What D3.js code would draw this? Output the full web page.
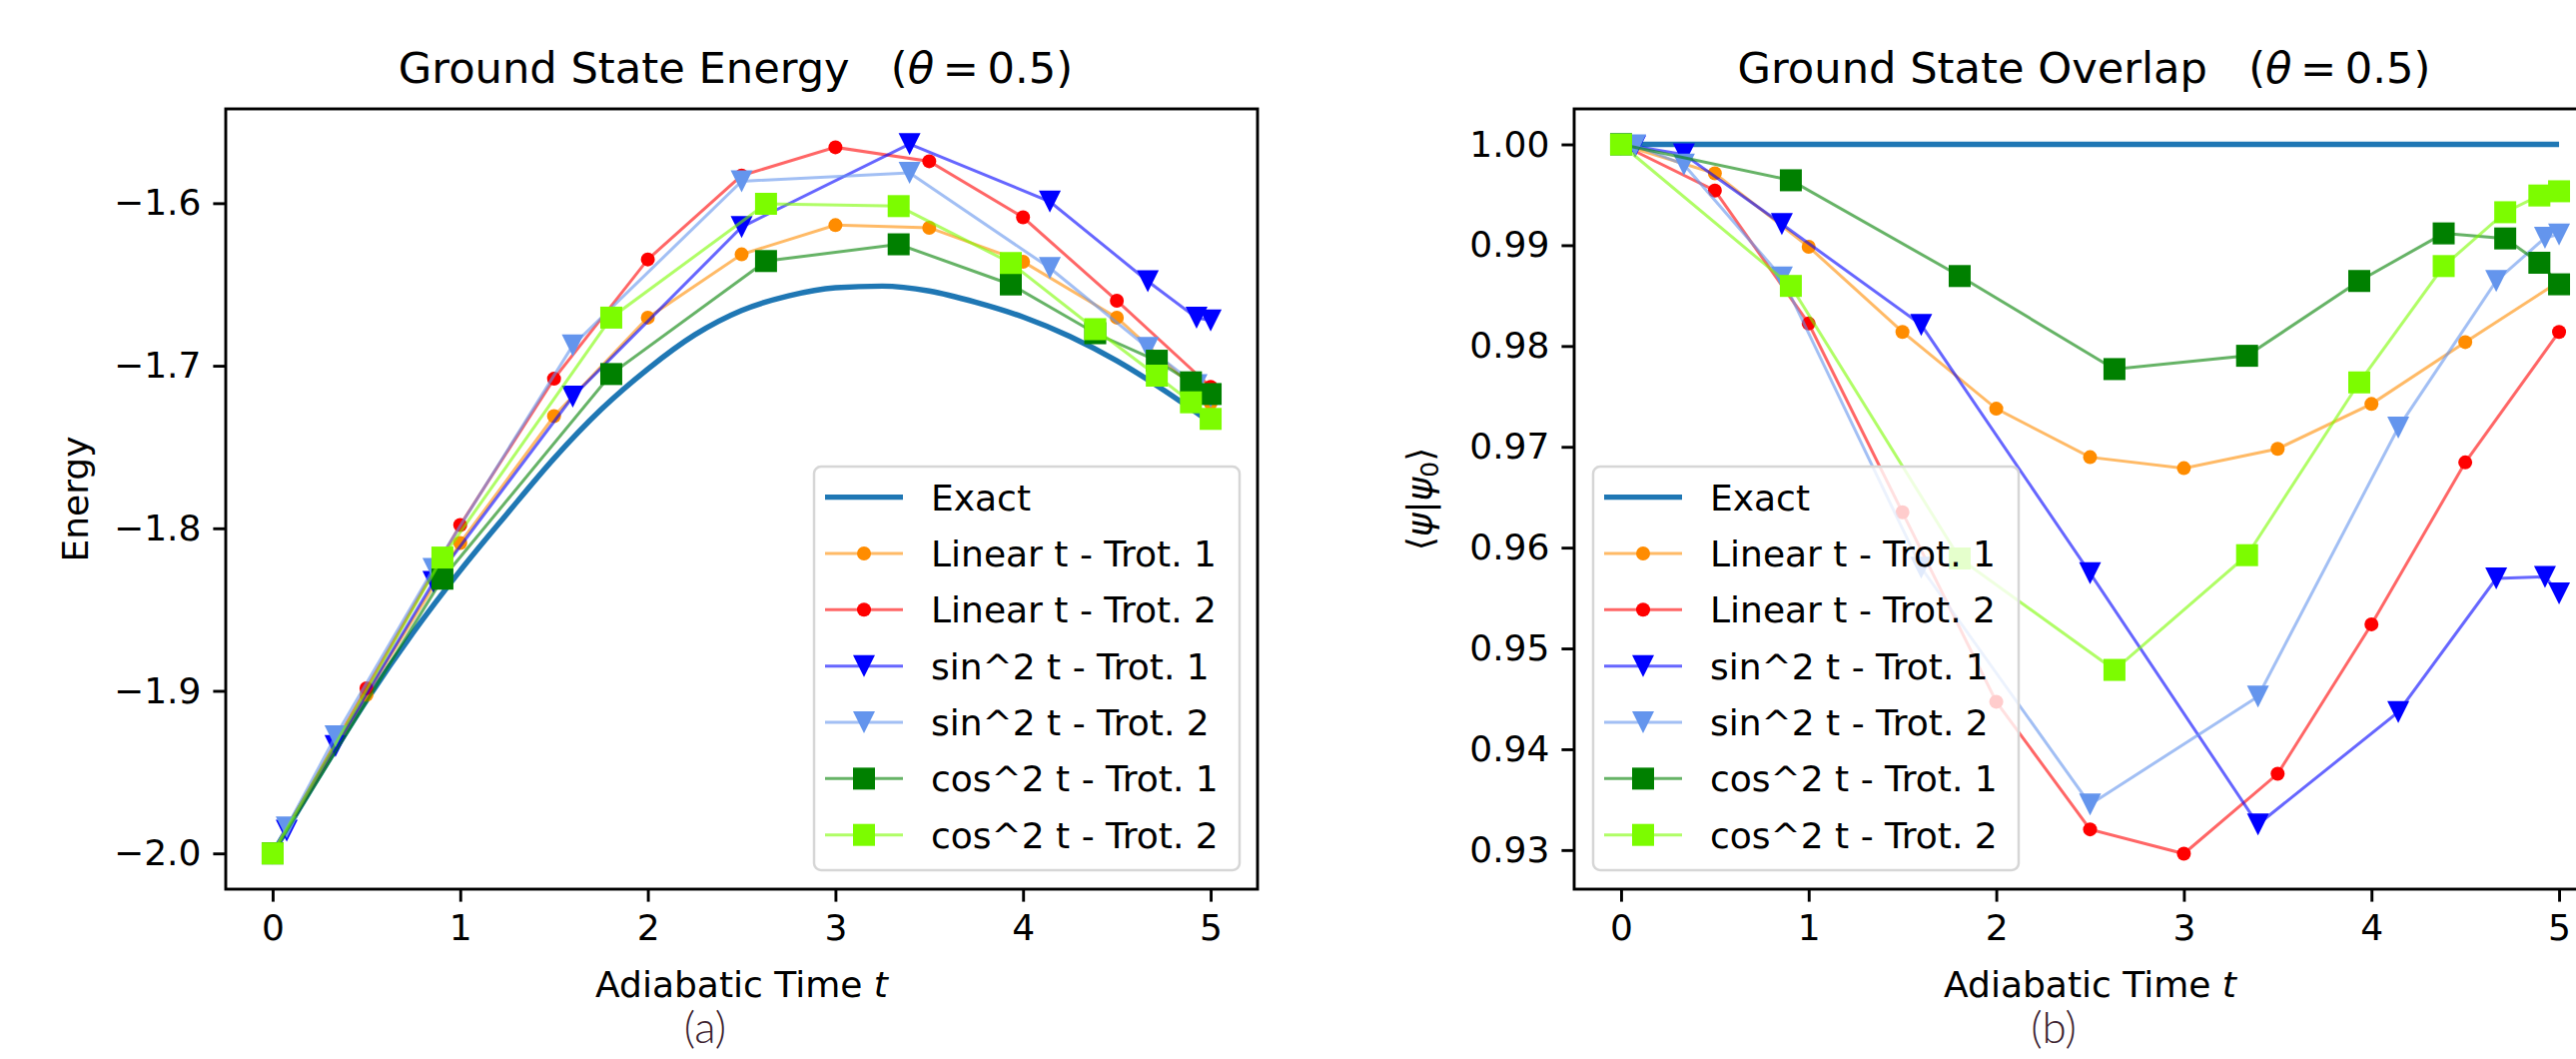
<!DOCTYPE html>
<html>
<head>
<meta charset="utf-8">
<script src="https://cdn.jsdelivr.net/npm/d3@7"></script>
<style>
  html, body { margin: 0; padding: 0; background: #fff; }
  svg { display: block; font-family: "DejaVu Sans", sans-serif; }
  .tick text { font-size: 36px; fill: #000; }
</style>
</head>
<body>
<svg id="chart" width="2579" height="1060"></svg>
<script>
// ---- data ----
var linearTimes = [0, 0.5, 1, 1.5, 2, 2.5, 3, 3.5, 4, 4.5, 5];
var sinTimes = [0, 0.075, 0.335, 0.857, 1.6, 2.5, 3.395, 4.143, 4.665, 4.925, 5];
var cosTimes = [0, 0.905, 1.805, 2.63, 3.337, 3.935, 4.385, 4.713, 4.895, 5];
var exactTimes = [0, 0.25, 0.5, 0.75, 1, 1.25, 1.5, 1.75, 2, 2.25, 2.5, 2.75, 3, 3.25, 3.5, 3.75, 4, 4.25, 4.5, 4.75, 5];

// energy panel
var energyExact = [-2.000, -1.952, -1.906, -1.864, -1.826, -1.791, -1.757, -1.727, -1.702, -1.681, -1.666,
  -1.657, -1.652, -1.651, -1.654, -1.661, -1.670, -1.682, -1.697, -1.715, -1.735];
var energyLinear1 = [-2.0, -1.9025, -1.809, -1.731, -1.6704, -1.6315, -1.6135, -1.6151, -1.636, -1.6704, -1.723];
var energyLinear2 = [-2.0, -1.8984, -1.798, -1.708, -1.6346, -1.583, -1.5656, -1.5742, -1.6087, -1.660, -1.713];
var energySin1 = [-2.0, -1.986, -1.934, -1.833, -1.719, -1.6147, -1.5636, -1.599, -1.648, -1.6705, -1.6722];
var energySin2 = [-2.0, -1.984, -1.928, -1.825, -1.6875, -1.5865, -1.5814, -1.6399, -1.689, -1.712, -1.719];
var energyCos1 = [-2.0, -1.831, -1.7051, -1.6356, -1.6253, -1.650, -1.680, -1.6969, -1.7102, -1.7174];
var energyCos2 = [-2.0, -1.818, -1.6704, -1.6004, -1.6018, -1.6368, -1.6775, -1.7061, -1.7225, -1.7327];

// overlap panel
var overlapExactTimes = [0, 5];
var overlapExact = [1.0, 1.0];
var overlapLinear1 = [1.0, 0.99713, 0.98984, 0.98140, 0.97378, 0.96897, 0.96788, 0.96980, 0.97425, 0.98039, 0.9864];
var overlapLinear2 = [1.0, 0.99542, 0.98223, 0.96350, 0.94471, 0.93205, 0.92964, 0.93756, 0.95239, 0.96845, 0.98140];
var overlapSin1 = [1.0, 0.9998, 0.9990, 0.9921, 0.9821, 0.95747, 0.93254, 0.94369, 0.95694, 0.95710, 0.95546];
var overlapSin2 = [1.0, 0.9999, 0.9980, 0.9868, 0.9580, 0.93452, 0.94523, 0.9719, 0.98645, 0.99073, 0.99107];
var overlapCos1 = [1.0, 0.99644, 0.98694, 0.97771, 0.97903, 0.98645, 0.99117, 0.99067, 0.98826, 0.98612];
var overlapCos2 = [1.0, 0.98596, 0.95892, 0.94787, 0.95925, 0.97639, 0.98793, 0.99327, 0.99493, 0.99535];

var xTicks = [0, 1, 2, 3, 4, 5];
var energyTicks = [-2.0, -1.9, -1.8, -1.7, -1.6];
var overlapTicks = [0.93, 0.94, 0.95, 0.96, 0.97, 0.98, 0.99, 1.00];

var seriesLabels = ["Exact", "Linear t - Trot. 1", "Linear t - Trot. 2", "sin^2 t - Trot. 1",
  "sin^2 t - Trot. 2", "cos^2 t - Trot. 1", "cos^2 t - Trot. 2"];
var seriesColors = ["#1f77b4", "#ff8c00", "#ff0000", "#0000ff", "#6495ed", "#008000", "#7cfc00"];
var seriesMarkers = [null, "circle", "circle", "tri", "tri", "square", "square"];

function zipSeries(times, values) {
  return times.map(function (t, i) { return [t, values[i]]; });
}

var energySeries = [
  zipSeries(exactTimes, energyExact),
  zipSeries(linearTimes, energyLinear1),
  zipSeries(linearTimes, energyLinear2),
  zipSeries(sinTimes, energySin1),
  zipSeries(sinTimes, energySin2),
  zipSeries(cosTimes, energyCos1),
  zipSeries(cosTimes, energyCos2)
];
var overlapSeries = [
  zipSeries(overlapExactTimes, overlapExact),
  zipSeries(linearTimes, overlapLinear1),
  zipSeries(linearTimes, overlapLinear2),
  zipSeries(sinTimes, overlapSin1),
  zipSeries(sinTimes, overlapSin2),
  zipSeries(cosTimes, overlapCos1),
  zipSeries(cosTimes, overlapCos2)
];

var svg = d3.select("#chart");

//marker shapes, size = full width in px
function markerPath(shape, s) {
  var h = s / 2;
  if (shape === "square") return "M" + (-h) + "," + (-h) + "h" + s + "v" + s + "h" + (-s) + "Z";
  if (shape === "tri") return "M" + (-h) + "," + (-h) + "L" + h + "," + (-h) + "L0," + h + "Z";
  return d3.symbol().type(d3.symbolCircle).size(Math.PI * 7 * 7)();
}
function markerSize(shape) {
  return shape === "circle" ? 14 : 22;
}

function drawPanel(cfg) {
  var g = svg.append("g");
  var x = d3.scaleLinear().domain([-0.25, 5.25]).range([cfg.left, cfg.left + cfg.width]);
  var y = d3.scaleLinear().domain(cfg.yDomain).range([cfg.top + cfg.height, cfg.top]);

  var clipId = "clip" + cfg.id;
  g.append("clipPath").attr("id", clipId).append("rect")
    .attr("x", cfg.left).attr("y", cfg.top).attr("width", cfg.width).attr("height", cfg.height);

  var plot = g.append("g").attr("clip-path", "url(#" + clipId + ")");

  cfg.series.forEach(function (data, i) {
    var color = seriesColors[i];
    var line = d3.line()
      .x(function (d) { return x(d[0]); })
      .y(function (d) { return y(d[1]); });
    if (i === 0) {
      line.curve(d3.curveMonotoneX);
      plot.append("path").datum(data)
        .attr("d", line)
        .attr("fill", "none")
        .attr("stroke", color)
        .attr("stroke-width", 5.4);
      return;
    }
    plot.append("path").datum(data)
      .attr("d", line)
      .attr("fill", "none")
      .attr("stroke", color)
      .attr("stroke-opacity", 0.6)
      .attr("stroke-width", 3);
    var shape = seriesMarkers[i];
    plot.selectAll(null).data(data).enter().append("path")
      .attr("d", markerPath(shape, markerSize(shape)))
      .attr("transform", function (d) { return "translate(" + x(d[0]) + "," + y(d[1]) + ")"; })
      .attr("fill", color);
  });

  // axes
  var xAxis = d3.axisBottom(x).tickValues(xTicks).tickFormat(d3.format("d"))
    .tickSize(12.6).tickPadding(13);
  var yAxis = d3.axisLeft(y).tickValues(cfg.yTicks).tickFormat(cfg.yFormat)
    .tickSize(12.6).tickPadding(12);

  var gx = g.append("g").attr("transform", "translate(0," + (cfg.top + cfg.height) + ")").call(xAxis);
  var gy = g.append("g").attr("transform", "translate(" + cfg.left + ",0)").call(yAxis);
  [gx, gy].forEach(function (a) {
    a.select(".domain").remove();
    a.selectAll(".tick line").attr("stroke", "#000").attr("stroke-width", 2.9);
    a.selectAll(".tick text").attr("font-family", "DejaVu Sans").style("font-size", "36px");
  });

  g.append("rect")
    .attr("x", cfg.left).attr("y", cfg.top)
    .attr("width", cfg.width).attr("height", cfg.height)
    .attr("fill", "none").attr("stroke", "#000").attr("stroke-width", 2.9);

  // title
  var title = g.append("text")
    .attr("x", cfg.left + cfg.width / 2 - 6).attr("y", 83)
    .attr("text-anchor", "middle")
    .style("font-size", "43.2px")
    .style("white-space", "pre");
  title.append("tspan").text(cfg.title + "   (");
  title.append("tspan").attr("font-style", "italic").text("θ");
  title.append("tspan").text("\u2009=\u20090.5)");

  // x label
  var xl = g.append("text")
    .attr("x", cfg.left + cfg.width / 2).attr("y", 998)
    .attr("text-anchor", "middle")
    .style("font-size", "36px")
    .style("white-space", "pre");
  xl.append("tspan").text("Adiabatic Time ");
  xl.append("tspan").attr("font-style", "italic").text("t");

  // y label
  var yl = g.append("text")
    .attr("transform", "translate(" + cfg.yLabelX + "," + (cfg.top + cfg.height / 2) + ") rotate(-90)")
    .attr("text-anchor", "middle")
    .style("font-size", "36px");
  cfg.yLabel(yl);

  // legend
  var lg = g.append("g").attr("transform", "translate(" + cfg.legendX + "," + cfg.legendY + ")");
  lg.append("rect")
    .attr("width", 426).attr("height", 404)
    .attr("rx", 7).attr("ry", 7)
    .attr("fill", "#fff").attr("fill-opacity", 0.8)
    .attr("stroke", "#d6d6d6").attr("stroke-width", 2.5);
  seriesLabels.forEach(function (label, i) {
    var cy = 30.6 + i * 56.35;
    var row = lg.append("g").attr("transform", "translate(0," + cy + ")");
    row.append("line")
      .attr("x1", 11).attr("x2", 89)
      .attr("stroke", seriesColors[i])
      .attr("stroke-opacity", i === 0 ? 1 : 0.6)
      .attr("stroke-width", i === 0 ? 5.4 : 3);
    if (seriesMarkers[i]) {
      row.append("path")
        .attr("d", markerPath(seriesMarkers[i], markerSize(seriesMarkers[i])))
        .attr("transform", "translate(50,0)")
        .attr("fill", seriesColors[i]);
    }
    row.append("text")
      .attr("x", 117).attr("dy", "0.36em")
      .style("font-size", "36px")
      .text(label);
  });
}

drawPanel({
  id: "E",
  left: 226, top: 109, width: 1033, height: 781,
  yDomain: [-2.022, -1.542],
  yTicks: energyTicks,
  yFormat: function (d) { return d3.format(".1f")(d).replace("-", "\u2212"); },
  title: "Ground State Energy",
  yLabelX: 88,
  yLabel: function (t) { t.text("Energy"); },
  series: energySeries,
  legendX: 815, legendY: 467
});

drawPanel({
  id: "O",
  left: 1576, top: 109, width: 1033, height: 781,
  yDomain: [0.92612, 1.00352],
  yTicks: overlapTicks,
  yFormat: d3.format(".2f"),
  title: "Ground State Overlap",
  yLabelX: 1434,
  yLabel: function (t) {
    t.append("tspan").text("\u27e8");
    t.append("tspan").attr("font-style", "italic").text("ψ");
    t.append("tspan").text("|");
    t.append("tspan").attr("font-style", "italic").text("ψ");
    t.append("tspan").attr("baseline-shift", "-25%").style("font-size", "25px").text("0");
    t.append("tspan").text("\u27e9");
  },
  series: overlapSeries,
  legendX: 1595, legendY: 467
});

// sub-figure captions
svg.append("text").attr("x", 706).attr("y", 1044).attr("text-anchor", "middle")
  .attr("font-family", "Lato").attr("font-weight", 300)
  .style("font-size", "44px").attr("fill", "#3d2330").text("(a)");
svg.append("text").attr("x", 2056).attr("y", 1044).attr("text-anchor", "middle")
  .attr("font-family", "Lato").attr("font-weight", 300)
  .style("font-size", "44px").attr("fill", "#3d2330").text("(b)");
</script>
</body>
</html>
